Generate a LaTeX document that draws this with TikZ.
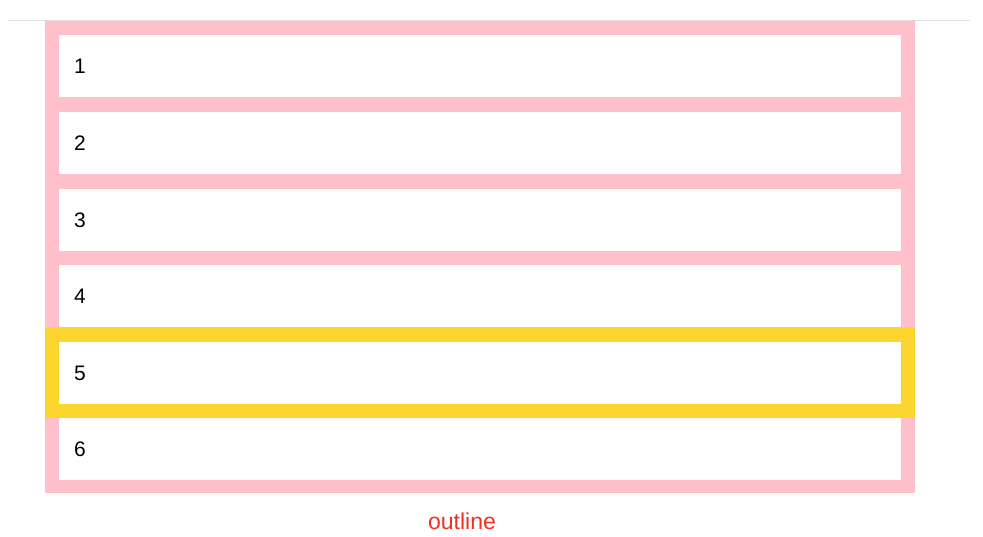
\documentclass[tikz,border=0pt]{standalone}
\usepackage{fontspec}
\setmainfont{Liberation Sans}
\definecolor{pinkbg}{HTML}{FFC0CB}
\definecolor{ybord}{HTML}{FDD52F}
\definecolor{lblred}{HTML}{EE3124}
\definecolor{rulegray}{HTML}{E2E2E2}
\begin{document}
\begin{tikzpicture}[x=1pt,y=-1pt,
  rowbox/.style={fill=white, draw=none, anchor=north west, minimum width=842pt, minimum height=62pt,
    text width=812pt, inner xsep=15pt, inner ysep=0pt, align=left, font=\fontsize{21}{24}\selectfont},
]
\useasboundingbox (0,0) rectangle (983,536);
\coordinate (la) at (8,20.5);
\coordinate (lb) at (970,20.5);
\draw[rulegray, line width=1pt] (la) -- (lb);
\node[fill=pinkbg, anchor=north west, minimum width=870pt, minimum height=472pt, inner sep=0pt] (frame) at (45,21) {};
\fill[ybord] (45,327) rectangle (915,418);
\node[rowbox] (r1) at (59,35) {1};
\node[rowbox] (r2) at (59,112) {2};
\node[rowbox] (r3) at (59,189) {3};
\node[rowbox] (r4) at (59,265) {4};
\node[rowbox] (r5) at (59,342) {5};
\node[rowbox] (r6) at (59,418) {6};
\node[text=lblred, font=\fontsize{23}{26}\selectfont, inner sep=0pt] (lbl) at (462,521) {outline};
\end{tikzpicture}
\end{document}
